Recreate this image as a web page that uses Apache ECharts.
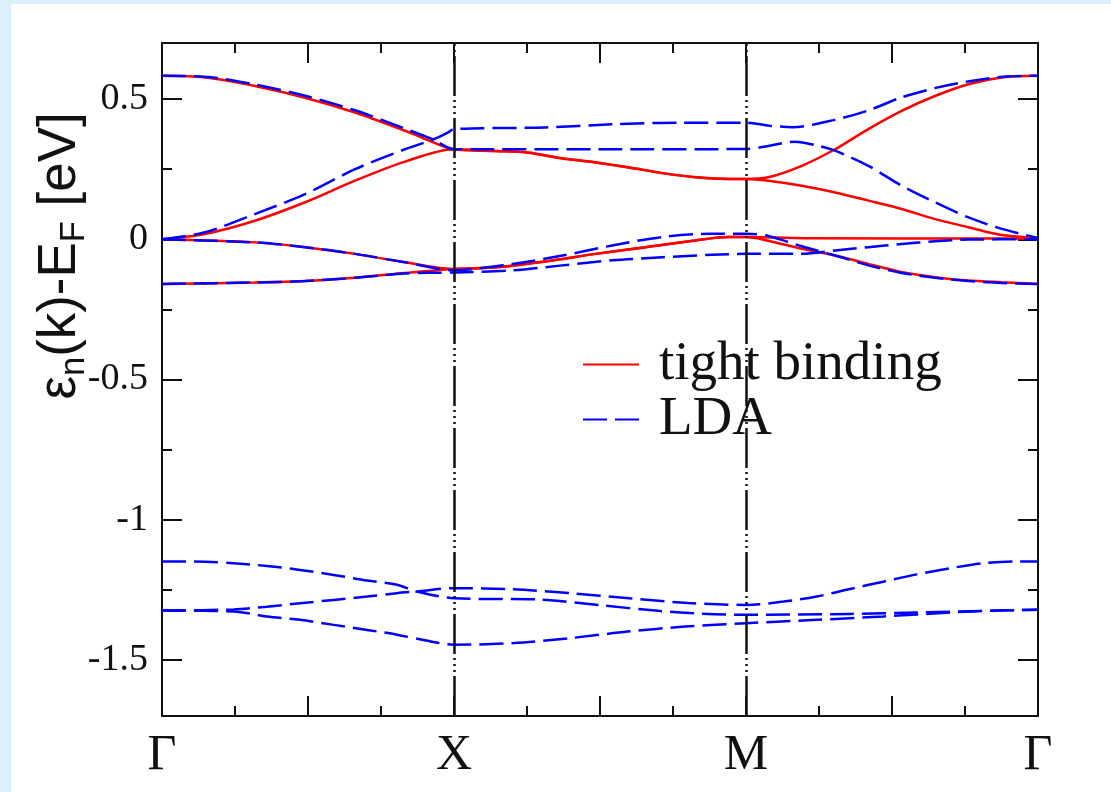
<!DOCTYPE html>
<html><head><meta charset="utf-8">
<script src="https://cdn.jsdelivr.net/npm/echarts@6/dist/echarts.min.js"></script>
<style>
html,body{margin:0;padding:0;background:#dcf0fc;width:1111px;height:792px;overflow:hidden}
#panel{position:absolute;left:11px;top:4px;width:1100px;height:788px;background:#ffffff}
#chart{position:absolute;left:0;top:0;width:1111px;height:792px}
</style></head><body>
<div id="panel"></div><div id="chart"></div>
<script>
// High-symmetry points along the k path (x = 0,1,2,3)
const kPointLabels = ['Γ', 'X', 'M', 'Γ'];
const kPointPositions = [0, 1, 2, 3];
const yTickValues = [-1.5, -1, -0.5, 0, 0.5];
const yMinorTickValues = [-1.25, -0.75, -0.25, 0.25];
const seriesNames = ['tight binding', 'LDA'];

// Tight-binding bands [k, E]
const tbBand1 = [[0,0.583],[0.147,0.577],[0.318,0.547],[0.49,0.505],[0.661,0.452],[0.832,0.387],[0.889,0.363],[1.0,0.321],
  [1.144,0.315],[1.258,0.309],[1.349,0.292],[1.486,0.274],[1.6,0.256],[1.714,0.236],[1.829,0.221],[1.943,0.215],[2.0,0.215],
  [2.076,0.221],[2.191,0.262],[2.305,0.321],[2.419,0.393],[2.533,0.458],[2.647,0.511],[2.762,0.553],[2.876,0.577],[3.0,0.583]];
const tbBand2 = [[0,0.0],[0.147,0.019],[0.318,0.066],[0.49,0.132],[0.661,0.209],[0.832,0.277],[1.0,0.321],
  [1.144,0.315],[1.258,0.309],[1.349,0.292],[1.486,0.274],[1.6,0.256],[1.714,0.236],[1.829,0.221],[1.943,0.215],[2.0,0.215],
  [2.076,0.209],[2.191,0.191],[2.305,0.167],[2.419,0.138],[2.533,0.108],[2.647,0.072],[2.762,0.043],[2.876,0.015],[3.0,0.004]];
const tbBand3 = [[0,0.0],[0.318,-0.011],[0.49,-0.028],[0.661,-0.052],[0.832,-0.082],[1.0,-0.106],
  [1.144,-0.1],[1.313,-0.079],[1.485,-0.052],[1.656,-0.028],[1.826,-0.004],[1.94,0.008],[2.0,0.008],
  [2.076,-0.005],[2.191,-0.034],[2.305,-0.058],[2.419,-0.088],[2.533,-0.117],[2.647,-0.135],[2.762,-0.147],[2.876,-0.153],[3.0,-0.159]];
const tbBand4 = [[0,-0.159],[0.318,-0.154],[0.49,-0.149],[0.661,-0.137],[0.832,-0.12],[1.0,-0.106],
  [1.144,-0.1],[1.313,-0.079],[1.485,-0.052],[1.656,-0.028],[1.826,-0.004],[1.94,0.008],[2.0,0.008],
  [2.2,0.004],[3.0,0.003]];

// LDA bands [k, E]
const ldaBand1 = [[0,0.583],[0.147,0.58],[0.318,0.552],[0.49,0.512],[0.661,0.46],[0.832,0.395],[0.889,0.372],[0.929,0.356],[1.0,0.321],
  [1.5,0.321],[2.0,0.322],
  [2.076,0.333],[2.167,0.348],[2.248,0.333],[2.305,0.316],[2.419,0.262],[2.533,0.191],[2.647,0.132],[2.762,0.078],[2.876,0.037],[3.0,0.005]];
const ldaBand2 = [[0,0.0],[0.147,0.025],[0.318,0.09],[0.49,0.161],[0.661,0.25],[0.832,0.321],[0.929,0.356],[0.98,0.381],[1.0,0.393],
  [1.313,0.399],[1.541,0.41],[1.769,0.416],[2.0,0.416],
  [2.08,0.405],[2.16,0.40],[2.3,0.425],[2.42,0.46],[2.53,0.505],[2.65,0.54],[2.76,0.563],[2.88,0.58],[3.0,0.583]];
const ldaBand3 = [[0,0.0],[0.318,-0.011],[0.49,-0.028],[0.661,-0.052],[0.832,-0.082],[1.0,-0.11],
  [1.2,-0.088],[1.371,-0.058],[1.542,-0.022],[1.713,0.008],[1.884,0.02],[2.0,0.02],
  [2.076,0.012],[2.191,-0.025],[2.305,-0.058],[2.419,-0.093],[2.533,-0.12],[2.647,-0.137],[2.762,-0.149],[2.876,-0.156],[3.0,-0.159]];
const ldaBand4 = [[0,-0.159],[0.318,-0.154],[0.49,-0.149],[0.661,-0.137],[0.832,-0.122],[1.0,-0.118],
  [1.2,-0.111],[1.371,-0.093],[1.542,-0.075],[1.713,-0.064],[1.884,-0.055],[2.0,-0.052],
  [2.191,-0.052],[2.305,-0.04],[2.419,-0.028],[2.533,-0.017],[2.647,-0.007],[2.762,-0.001],[3.0,0.0]];
const ldaBand5 = [[0,-1.149],[0.15,-1.15],[0.245,-1.155],[0.359,-1.165],[0.473,-1.179],[0.588,-1.197],[0.702,-1.217],[0.805,-1.232],[0.872,-1.256],[1.0,-1.28],
  [1.3,-1.285],[1.5,-1.305],[1.7,-1.325],[1.85,-1.335],[2.0,-1.339],
  [2.356,-1.336],[2.585,-1.331],[2.813,-1.325],[3.0,-1.321]];
const ldaBand6 = [[0,-1.324],[0.245,-1.32],[0.359,-1.31],[0.473,-1.298],[0.588,-1.286],[0.702,-1.274],[0.805,-1.262],[0.872,-1.256],[1.0,-1.244],
  [1.2,-1.248],[1.4,-1.262],[1.6,-1.28],[1.8,-1.297],[2.0,-1.304],
  [2.128,-1.292],[2.242,-1.274],[2.356,-1.247],[2.47,-1.221],[2.585,-1.195],[2.699,-1.173],[2.813,-1.155],[2.927,-1.149],[3.0,-1.149]];
const ldaBand7 = [[0,-1.324],[0.245,-1.327],[0.359,-1.345],[0.473,-1.357],[0.588,-1.375],[0.702,-1.393],[0.805,-1.41],[0.9,-1.43],[1.0,-1.446],
  [1.205,-1.44],[1.4,-1.422],[1.595,-1.399],[1.79,-1.381],[2.0,-1.369],
  [2.242,-1.357],[2.47,-1.345],[2.699,-1.331],[2.813,-1.325],[3.0,-1.321]];

const tbBands = [tbBand1, tbBand2, tbBand3, tbBand4];
const ldaBands = [ldaBand1, ldaBand2, ldaBand3, ldaBand4, ldaBand5, ldaBand6, ldaBand7];

const RED = '#ff0000', BLUE = '#0000ff', INK = '#111111';
const LDA_DASH = [24, 8];
const VLINE_DASH = [40, 4, 2, 4, 2, 4, 2, 4];

function band(name, data, color, dash) {
  return {
    name: name, type: 'line', data: data, symbol: 'none', showSymbol: false,
    smooth: 0.3, clip: true, animation: false, silent: true,
    lineStyle: { color: color, width: 2.5, type: dash },
    itemStyle: { color: color }
  };
}

const series = [];
tbBands.forEach(function (b) { series.push(band(seriesNames[0], b, RED, 'solid')); });
ldaBands.forEach(function (b) { series.push(band(seriesNames[1], b, BLUE, LDA_DASH)); });
// vertical lines at the interior high-symmetry points
series[0].markLine = {
  silent: true, symbol: ['none', 'none'], animation: false,
  label: { show: false },
  lineStyle: { color: INK, width: 2.5, type: VLINE_DASH },
  data: kPointPositions.slice(1, 3).map(function (v) { return { xAxis: v }; })
};

const fontSerif = 'Liberation Serif';
const tickLine = { color: INK, width: 2 };

function xAxisDef(pos, showLabel) {
  return {
    type: 'value', position: pos, min: 0, max: 3, interval: 0.5,
    axisLine: { show: true, onZero: false, lineStyle: tickLine },
    axisTick: { show: true, inside: true, length: 20, lineStyle: tickLine },
    minorTick: { show: true, splitNumber: 2, length: 10, lineStyle: tickLine },
    splitLine: { show: false }, minorSplitLine: { show: false },
    axisLabel: {
      show: showLabel, margin: 15, fontFamily: fontSerif, fontSize: 50, color: INK,
      formatter: function (v) { const i = kPointPositions.indexOf(v); return i >= 0 ? kPointLabels[i] : ''; }
    }
  };
}
function yAxisDef(pos, ticks, len, showLine, showLabel) {
  return {
    type: 'value', position: pos, min: -1.7, max: 0.7,
    axisLine: { show: showLine, onZero: false, lineStyle: tickLine },
    axisTick: { show: true, inside: true, length: len, lineStyle: tickLine, customValues: ticks },
    splitLine: { show: false },
    axisLabel: { show: showLabel, customValues: ticks, margin: 14, fontFamily: fontSerif, fontSize: 38, color: INK }
  };
}

const chart = echarts.init(document.getElementById('chart'), null, { renderer: 'canvas' });
chart.setOption({
  backgroundColor: 'transparent',
  animation: false,
  grid: { left: 162, right: 73, top: 43, bottom: 76 },
  xAxis: [xAxisDef('bottom', true), xAxisDef('top', false)],
  yAxis: [
    yAxisDef('left', yTickValues, 20, true, true),
    yAxisDef('right', yTickValues, 20, true, false),
    yAxisDef('left', yMinorTickValues, 10, false, false),
    yAxisDef('right', yMinorTickValues, 10, false, false)
  ],
  legend: {
    data: seriesNames, orient: 'vertical', left: 582, top: 337, padding: 0,
    itemWidth: 56, itemHeight: 14, itemGap: 0,
    itemStyle: { opacity: 0 },
    textStyle: { fontFamily: fontSerif, fontSize: 55, lineHeight: 54, color: INK, padding: [0, 0, 0, 15] },
    selectedMode: false
  },
  graphic: [{
    type: 'text', x: 60, y: 256, rotation: Math.PI / 2, scaleX: 1.15, scaleY: 1.15,
    style: {
      text: '{a|ε}{s|n}{a|(k)-E}{s|F}{a| [eV]}',
      textAlign: 'center', textVerticalAlign: 'middle', fill: INK,
      rich: {
        a: { fontFamily: 'Liberation Sans', fontSize: 46, fill: INK },
        s: { fontFamily: 'Liberation Sans', fontSize: 30, fill: INK, padding: [26, 0, 0, 0] }
      }
    }
  }],
  series: series
});
</script>
</body></html>
